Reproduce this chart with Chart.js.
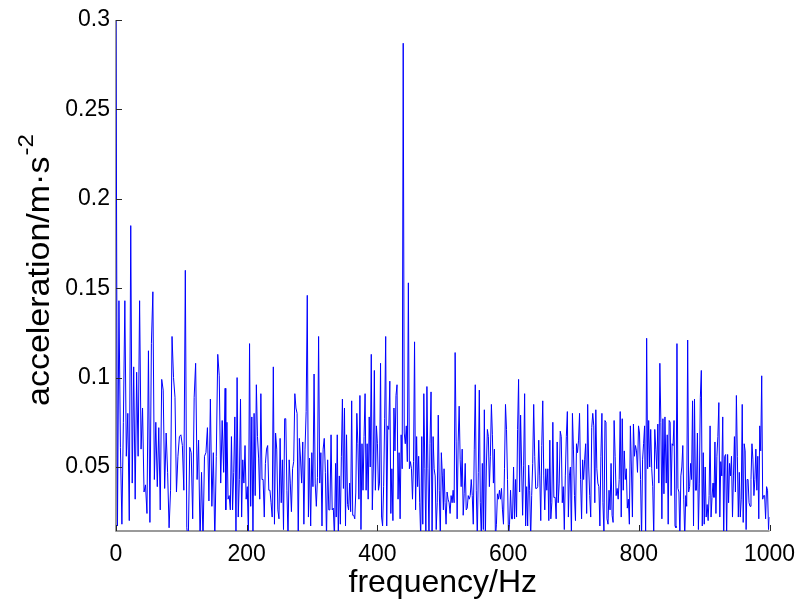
<!DOCTYPE html>
<html><head><meta charset="utf-8">
<script src="https://cdn.jsdelivr.net/npm/chart.js@4/dist/chart.umd.min.js"></script>
<style>html,body{margin:0;padding:0;background:#fff;}#wrap{width:797px;height:600px;position:relative;}</style>
</head><body><div id="wrap"><canvas id="c" width="797" height="600"></canvas></div>
<script>
// ---- data ----
const xTickValues = [0, 200, 400, 600, 800, 1000];
const xTickLabels = ['0', '200', '400', '600', '800', '1000'];
const yTickValues = [0.05, 0.1, 0.15, 0.2, 0.25, 0.3];
const yTickLabels = ['0.05', '0.1', '0.15', '0.2', '0.25', '0.3'];
const xTitle = 'frequency/Hz';
const yTitleMain = 'acceleration/m\u00B7s';
const yTitleSup = '-2';
// frequency span (Hz) covered by each block of readings
const segmentSpansHz = [[0, 167], [168, 336], [337, 501], [502, 670], [672, 840], [842, 1000]];
const accel0to167 = [0.300, 0.017, 0.143, 0.061, 0.018, 0.075, 0.143, 0.056, 0.080, 0.020, 0.185, 0.041, 0.106, 0.032, 0.103, 0.056, 0.143, 0.060, 0.083, 0.036, 0.040, 0.024, 0.115, 0.019, 0.119, 0.148, 0.043, 0.075, 0.039, 0.072, 0.026, 0.099, 0.093, 0.038, 0.069, 0.047, 0.016, 0.037, 0.123, 0.100, 0.089, 0.036, 0.056, 0.067, 0.068, 0.062, 0.037, 0.160, 0.016, 0.008, 0.061, 0.058, 0.021, 0.089, 0.108, 0.043, 0.065, 0.008, 0.047, 0.008, 0.056, 0.058, 0.072, 0.031, 0.088, 0.028, 0.058, 0.008, 0.056, 0.113, 0.101, 0.041, 0.076, 0.047, 0.094];
const accel168to336 = [0.026, 0.075, 0.032, 0.034, 0.026, 0.067, 0.026, 0.047, 0.078, 0.010, 0.100, 0.022, 0.043, 0.088, 0.022, 0.054, 0.041, 0.062, 0.032, 0.039, 0.010, 0.119, 0.028, 0.078, 0.010, 0.080, 0.034, 0.096, 0.067, 0.055, 0.032, 0.091, 0.043, 0.043, 0.022, 0.052, 0.060, 0.062, 0.037, 0.037, 0.030, 0.022, 0.106, 0.018, 0.069, 0.060, 0.026, 0.021, 0.066, 0.030, 0.054, 0.015, 0.077, 0.077, 0.037, 0.010, 0.054, 0.041, 0.025, 0.049, 0.053, 0.091, 0.083, 0.080, 0.010, 0.066, 0.055, 0.041, 0.064, 0.018, 0.060, 0.081, 0.146, 0.022, 0.055, 0.017, 0.058, 0.039, 0.102, 0.041, 0.028, 0.044, 0.123, 0.041, 0.058, 0.017, 0.060, 0.066, 0.047, 0.010, 0.054, 0.026, 0.026, 0.068, 0.026, 0.027, 0.010, 0.052];
const accel337to501 = [0.022, 0.068, 0.010, 0.045, 0.018, 0.056, 0.088, 0.038, 0.083, 0.017, 0.068, 0.029, 0.026, 0.041, 0.025, 0.087, 0.023, 0.023, 0.021, 0.036, 0.080, 0.063, 0.032, 0.090, 0.015, 0.063, 0.037, 0.067, 0.091, 0.037, 0.063, 0.032, 0.078, 0.050, 0.113, 0.026, 0.050, 0.104, 0.037, 0.073, 0.063, 0.037, 0.041, 0.108, 0.022, 0.017, 0.039, 0.077, 0.123, 0.017, 0.073, 0.071, 0.098, 0.024, 0.049, 0.020, 0.083, 0.059, 0.090, 0.096, 0.032, 0.058, 0.021, 0.068, 0.049, 0.287, 0.069, 0.063, 0.073, 0.053, 0.153, 0.049, 0.053, 0.049, 0.032, 0.053, 0.120, 0.026, 0.067, 0.039, 0.056, 0.030, 0.010, 0.067, 0.018, 0.091, 0.049, 0.010, 0.095, 0.049, 0.010, 0.063, 0.092, 0.010, 0.067, 0.049, 0.045, 0.015, 0.030, 0.079, 0.037, 0.010, 0.058, 0.045, 0.026];
const accel502to670 = [0.049, 0.030, 0.018, 0.036, 0.032, 0.030, 0.024, 0.034, 0.030, 0.037, 0.030, 0.114, 0.064, 0.021, 0.064, 0.084, 0.054, 0.039, 0.060, 0.023, 0.035, 0.052, 0.026, 0.027, 0.034, 0.032, 0.034, 0.043, 0.034, 0.018, 0.060, 0.096, 0.037, 0.010, 0.047, 0.093, 0.030, 0.010, 0.052, 0.015, 0.082, 0.010, 0.050, 0.071, 0.067, 0.039, 0.056, 0.085, 0.068, 0.041, 0.060, 0.010, 0.018, 0.035, 0.032, 0.037, 0.032, 0.038, 0.026, 0.018, 0.049, 0.085, 0.071, 0.043, 0.010, 0.018, 0.037, 0.021, 0.021, 0.050, 0.021, 0.043, 0.022, 0.071, 0.099, 0.036, 0.079, 0.050, 0.023, 0.051, 0.091, 0.017, 0.039, 0.017, 0.051, 0.037, 0.010, 0.034, 0.052, 0.085, 0.056, 0.038, 0.038, 0.039, 0.065, 0.045, 0.020, 0.062, 0.087, 0.045, 0.026, 0.049, 0.037, 0.049, 0.020, 0.065, 0.021, 0.030, 0.075, 0.033];
const accel672to840 = [0.033, 0.021, 0.064, 0.030, 0.041, 0.070, 0.067, 0.030, 0.039, 0.015, 0.045, 0.067, 0.081, 0.022, 0.045, 0.050, 0.010, 0.080, 0.060, 0.034, 0.020, 0.063, 0.058, 0.065, 0.080, 0.043, 0.021, 0.054, 0.043, 0.054, 0.063, 0.024, 0.085, 0.050, 0.034, 0.022, 0.072, 0.080, 0.073, 0.030, 0.082, 0.049, 0.041, 0.039, 0.017, 0.056, 0.080, 0.030, 0.013, 0.076, 0.075, 0.021, 0.018, 0.037, 0.026, 0.052, 0.023, 0.019, 0.076, 0.056, 0.034, 0.038, 0.032, 0.043, 0.081, 0.022, 0.077, 0.037, 0.059, 0.043, 0.049, 0.027, 0.032, 0.018, 0.073, 0.050, 0.022, 0.074, 0.056, 0.062, 0.059, 0.047, 0.073, 0.069, 0.043, 0.010, 0.054, 0.063, 0.073, 0.010, 0.122, 0.049, 0.076, 0.050, 0.071, 0.049, 0.039, 0.010, 0.071, 0.060, 0.049, 0.074, 0.041, 0.108, 0.075, 0.021, 0.077, 0.035, 0.078];
const accel842to1000 = [0.041, 0.068, 0.018, 0.076, 0.075, 0.034, 0.063, 0.062, 0.076, 0.017, 0.016, 0.119, 0.038, 0.036, 0.010, 0.045, 0.050, 0.062, 0.032, 0.010, 0.034, 0.028, 0.121, 0.036, 0.039, 0.052, 0.043, 0.087, 0.017, 0.088, 0.037, 0.037, 0.069, 0.015, 0.041, 0.089, 0.104, 0.017, 0.058, 0.018, 0.050, 0.022, 0.029, 0.020, 0.034, 0.073, 0.022, 0.033, 0.041, 0.033, 0.064, 0.024, 0.056, 0.067, 0.086, 0.022, 0.053, 0.045, 0.078, 0.010, 0.056, 0.057, 0.010, 0.057, 0.030, 0.052, 0.045, 0.056, 0.022, 0.045, 0.067, 0.036, 0.090, 0.056, 0.022, 0.047, 0.022, 0.032, 0.085, 0.019, 0.063, 0.059, 0.015, 0.043, 0.043, 0.030, 0.028, 0.043, 0.063, 0.054, 0.034, 0.043, 0.060, 0.037, 0.056, 0.021, 0.073, 0.059, 0.101, 0.032, 0.034, 0.034, 0.021, 0.039, 0.037, 0.015, 0.022];
const yMin = 0.0142, yMax = 0.3, xMin = 0, xMax = 1000;

// ---- build points: readings spread evenly across their frequency block ----
const blocks = [accel0to167, accel168to336, accel337to501, accel502to670, accel672to840, accel842to1000];
const points = [];
blocks.forEach((vals, b) => {
  const [f0, f1] = segmentSpansHz[b];
  vals.forEach((v, i) => points.push({ x: f0 + (f1 - f0) * i / (vals.length - 1), y: v }));
});

const FONT = '"Liberation Sans", Arial, Helvetica, sans-serif';

const matlabAxes = {
  id: 'matlabAxes',
  beforeDatasetsDraw(chart) {
    const { ctx, chartArea: a } = chart;
    ctx.save();
    ctx.strokeStyle = '#7a7a7a';
    ctx.lineWidth = 1.5;
    ctx.beginPath();
    ctx.moveTo(a.left, a.top);
    ctx.lineTo(a.left, a.bottom);
    ctx.lineTo(a.right, a.bottom);
    ctx.stroke();
    ctx.restore();
  },
  afterDatasetsDraw(chart) {
    const { ctx, chartArea: a, scales: { x, y } } = chart;
    ctx.save();
    ctx.strokeStyle = '#262626';
    ctx.lineWidth = 1;
    ctx.beginPath();
    xTickValues.forEach(v => {
      const px = Math.round(x.getPixelForValue(v)) + 0.5;
      ctx.moveTo(px, a.bottom); ctx.lineTo(px, a.bottom - 6);
    });
    yTickValues.forEach(v => {
      const py = Math.round(y.getPixelForValue(v)) + 0.5;
      ctx.moveTo(a.left, py); ctx.lineTo(a.left + 6, py);
    });
    ctx.stroke();
    ctx.restore();
  },
  afterDraw(chart) {
    const { ctx, chartArea: a } = chart;
    ctx.save();
    ctx.fillStyle = '#000';
    // x title
    ctx.font = '32px ' + FONT;
    ctx.textAlign = 'center';
    ctx.textBaseline = 'alphabetic';
    ctx.fillText(xTitle, (a.left + a.right) / 2, 592);
    // y title with superscript
    ctx.translate(49, 406);
    ctx.rotate(-Math.PI / 2);
    ctx.scale(1, 0.92);
    ctx.textAlign = 'left';
    ctx.font = '34px ' + FONT;
    ctx.fillText(yTitleMain, 0, 0);
    const w = ctx.measureText(yTitleMain).width;
    ctx.font = '24px ' + FONT;
    ctx.fillText(yTitleSup, w + 1, -17);
    ctx.restore();
  }
};

new Chart(document.getElementById('c'), {
  type: 'line',
  data: {
    datasets: [{
      data: points,
      borderColor: '#0000ff',
      borderWidth: 1,
      pointRadius: 0,
      tension: 0,
      fill: false
    }]
  },
  options: {
    responsive: false,
    animation: false,
    layout: { padding: { left: 0, right: 27.5, top: 20, bottom: 0 } },
    plugins: { legend: { display: false }, tooltip: { enabled: false } },
    scales: {
      x: {
        type: 'linear', min: xMin, max: xMax,
        afterBuildTicks: s => { s.ticks = xTickValues.map(v => ({ value: v })); },
        afterFit: s => { s.height = 69; s.paddingLeft = 0; s.paddingRight = 0; },
        grid: { display: false, drawTicks: false }, border: { display: false },
        ticks: {
          color: '#000', padding: 10, maxRotation: 0, autoSkip: false,
          font: { family: FONT, size: 23 },
          callback: (v, i) => xTickLabels[i]
        }
      },
      y: {
        type: 'linear', min: yMin, max: yMax,
        afterBuildTicks: s => { s.ticks = yTickValues.map(v => ({ value: v })); },
        afterFit: s => { s.width = 116; s.paddingTop = 0; s.paddingBottom = 0; },
        grid: { display: false, drawTicks: false }, border: { display: false },
        ticks: {
          color: '#000', padding: 6, autoSkip: false,
          font: { family: FONT, size: 23 },
          callback: (v, i) => yTickLabels[i]
        }
      }
    }
  },
  plugins: [matlabAxes]
});
</script></body></html>
